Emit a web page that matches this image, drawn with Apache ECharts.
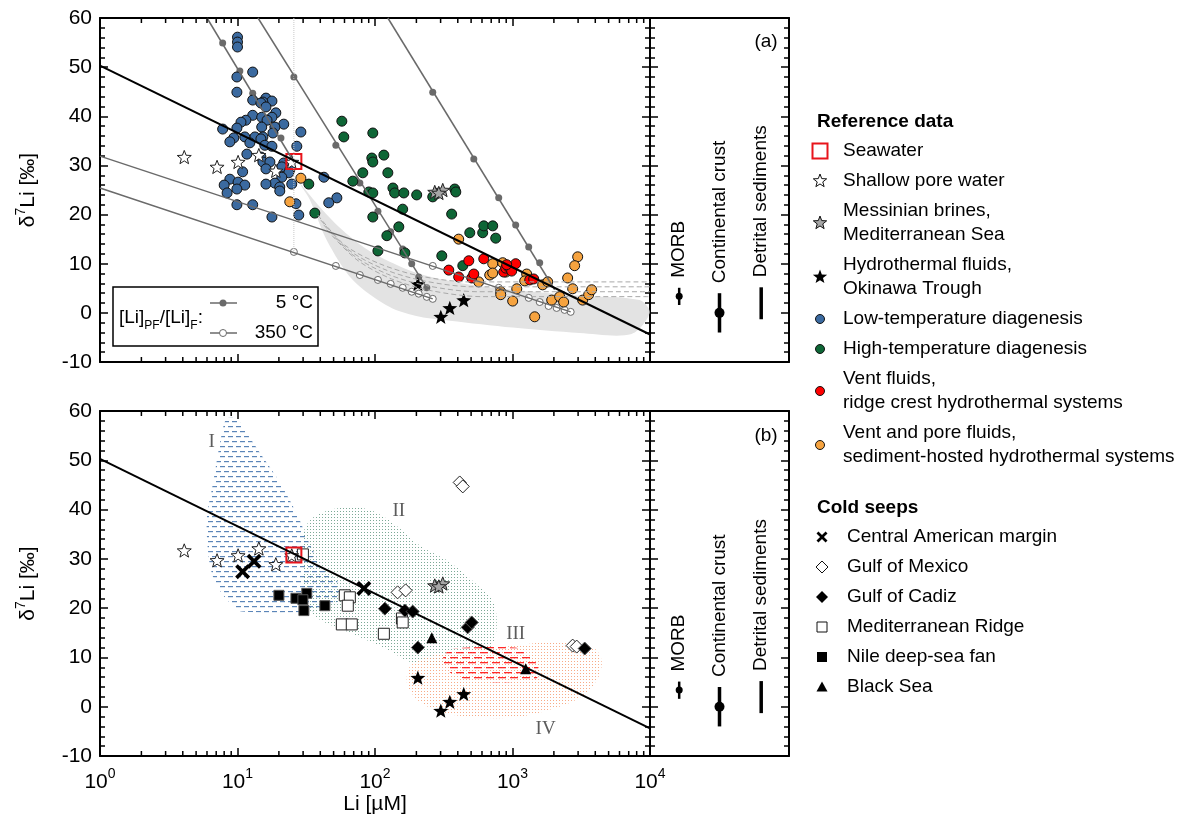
<!DOCTYPE html>
<html>
<head>
<meta charset="utf-8">
<title>δ7Li versus Li concentration</title>
<script src="https://cdn.jsdelivr.net/npm/echarts@6.0.0/dist/echarts.min.js"></script>
<style>
  html, body { margin: 0; padding: 0; background: #fff; }
  #chart { width: 1182px; height: 832px; }
</style>
</head>
<body>
<div id="chart"></div>
<script>
// ---------------- data: [Li (µM), δ7Li (‰)] ----------------
const seawater = [[25.7, 30.8]];
const shallowPoreWater = [[4.1, 31.7], [7.1, 29.7], [10.1, 30.7], [14.3, 32.1], [19.0, 28.9], [24.8, 30.7]];
const messinianBrines = [[272, 24.6], [311, 25.0], [291, 24.4]];
const okinawaFluids = [[205, 5.9], [301, -0.8], [350, 1.0], [442, 2.6]];

const lowTempDiagenesis = [
  [10.0, 56.1], [10.0, 55.1], [10.0, 54.1], [12.9, 49.0], [9.9, 48.0], [9.9, 44.9], [12.9, 43.3], [16.1, 43.7],
  [17.8, 43.1], [15.3, 42.9], [14.8, 42.7], [16.1, 41.9], [19.0, 40.7], [12.9, 40.2], [15.0, 39.8], [17.8, 39.8],
  [11.5, 39.2], [16.4, 39.2], [10.6, 38.8], [21.7, 38.4], [18.7, 37.8], [15.0, 37.8], [9.9, 37.6], [7.8, 37.4],
  [28.9, 36.8], [18.1, 36.6], [13.4, 35.8], [15.3, 35.8], [11.3, 35.8], [9.4, 35.6], [14.8, 35.4], [8.8, 34.8],
  [12.3, 34.6], [15.8, 34.1], [17.8, 33.9], [27.0, 33.9], [11.7, 32.3], [14.8, 31.7], [15.3, 30.7], [17.2, 30.7],
  [21.7, 30.5], [21.0, 29.7], [16.1, 29.3], [24.0, 29.1], [10.9, 28.7], [23.6, 28.5], [21.0, 27.6], [42.5, 27.6],
  [8.8, 27.2], [10.1, 26.6], [18.7, 26.4], [24.8, 26.2], [16.1, 26.2], [8.0, 26.0], [11.3, 26.0], [20.3, 25.6],
  [9.9, 25.2], [20.3, 24.8], [8.4, 24.4], [52.8, 23.4], [46.1, 22.4], [26.6, 22.2], [9.9, 22.0], [12.9, 22.0],
  [27.9, 19.9], [17.8, 19.5]
];
const highTempDiagenesis = [
  [57.4, 39.0], [59.3, 35.8], [96.4, 36.6], [94.8, 31.5], [96.4, 30.7], [116, 32.1], [81.5, 28.5], [124, 28.5],
  [69.0, 26.8], [90.2, 24.6], [96.4, 24.4], [135, 25.4], [139, 24.4], [162, 24.4], [201, 24.0], [263, 23.6],
  [380, 25.2], [387, 24.6], [159, 21.1], [33.0, 26.2], [36.5, 20.3], [96.4, 19.5], [149, 17.5], [122, 15.7],
  [361, 20.1], [489, 16.3], [607, 16.3], [618, 17.7], [718, 17.7], [755, 15.2], [105, 12.6], [165, 12.2],
  [306, 11.6], [435, 9.6]
];
const ridgeCrestVents = [
  [344, 8.7], [406, 7.3], [481, 10.6], [505, 7.1], [523, 7.9], [618, 11.0], [863, 8.3], [893, 9.1],
  [938, 9.3], [986, 8.5], [1055, 10.0], [907, 9.8], [1334, 6.7], [1426, 6.9]
];
const sedimentHostedVents = [
  [28.9, 27.4], [24.0, 22.6], [406, 15.0], [718, 10.0], [849, 10.2], [683, 7.7], [718, 8.1], [893, 8.3],
  [821, 4.3], [821, 3.7], [568, 6.3], [1074, 4.9], [1003, 2.4], [1268, 7.9], [1227, 6.5], [1657, 5.7],
  [1803, 6.3], [1928, 2.6], [2203, 3.3], [2355, 2.2], [1450, -0.8], [2518, 7.1], [2739, 4.9], [2979, 11.4],
  [2831, 9.6], [3237, 2.6], [3580, 3.7], [3765, 4.7]
];

// seawater – continental input mixing line
const mixingLine = [[1, 50.3], [10000, -4.4]];

// [Li]PF/[Li]F model curves at 5 °C (line ends, then ratio markers)
const curve5C_A = [[6.0, 60], [25.7, 30.7]];
const curve5C_A_marks = [[7.8, 54.9], [10.4, 49.2], [12.9, 44.7], [20.7, 35.6]];
const curve5C_B = [[14.1, 60], [238, 5.1]];
const curve5C_B_marks = [[25.7, 48.0], [51.9, 34.1], [77.6, 26.4], [105, 20.7], [130, 16.5], [159, 13.0], [185, 10.0], [208, 7.3], [238, 5.1]];
const curve5C_C = [[124, 60], [2027, 4.7]];
const curve5C_C_marks = [[263, 44.9], [523, 31.3], [794, 23.4], [1055, 17.9], [1312, 13.4], [1577, 10.2], [1804, 6.7]];
// ... and at 350 °C
const curve350C_A = [[1, 31.9], [2649, 0.2]];
const curve350C_A_marks = [[263, 9.55], [794, 5.1], [1312, 3.05], [1577, 2.2], [1830, 1.4], [2094, 1.0], [2393, 0.6], [2649, 0.2]];
const curve350C_B = [[1, 25.4], [263, 2.85]];
const curve350C_B_marks = [[25.7, 12.4], [51.9, 9.55], [77.6, 7.7], [105, 6.7], [130, 5.9], [159, 5.1], [185, 4.3], [208, 3.9], [238, 3.25], [263, 2.85]];

// seawater Li reference
const seawaterLiGuide = [[25.7, 60], [25.7, 12.4]];

// modelled fluid envelope (shaded) and its dashed bounds
const fluidEnvelope = [
  [28.4, 26.4], [38.4, 22.0], [55.5, 17.3], [84.3, 13.2], [128, 10.4], [212, 7.9], [413, 6.1], [1003, 4.7],
  [3076, 3.5], [8404, 2.6], [9940, 0], [7350, -4.3], [3076, -4.1], [1003, -3.0], [350, -1.6], [212, -0.8],
  [128, 1.2], [69.0, 6.7], [44.6, 14.8], [33.6, 23.0], [29.4, 25.6]
];
const envelopeDash1 = [[38.4, 19.9], [60.2, 13.8], [108, 10.0], [212, 7.5], [490, 6.3], [10000, 6.3]];
const envelopeDash2 = [[40.3, 18.9], [64.5, 12.8], [116, 8.9], [227, 6.5], [523, 5.3], [10000, 5.3]];
const envelopeDash3 = [[42.4, 17.9], [69.0, 11.8], [123, 7.9], [241, 5.5], [560, 4.3], [10000, 4.3]];
const envelopeDash4 = [[44.6, 16.9], [73.8, 10.8], [132, 6.9], [258, 4.5], [598, 3.3], [10000, 3.3]];

// cold seeps
const centralAmerica = [[10.9, 27.4], [13.2, 29.5], [83, 24.0]];
const gulfOfMexico = [[413, 45.5], [435, 44.7], [146, 23.2], [167, 23.6], [2739, 12.4], [2930, 12.2]];
const gulfOfCadiz = [[118, 19.9], [165, 19.5], [188, 19.3], [205, 12.0], [472, 16.1], [505, 17.1], [3350, 11.8]];
const mediterraneanRidge = [[29.9, 30.9], [60.3, 22.6], [65.6, 22.2], [63.4, 20.5], [57.4, 16.7], [67.8, 16.7], [116, 14.8], [157, 17.9], [159, 17.1]];
const nileFan = [[20.0, 22.6], [26.6, 22.0], [31.9, 23.0], [29.9, 21.7], [30.4, 19.5], [43.2, 20.5]];
const blackSea = [[259, 14.0], [1247, 7.7]];

// fluid-type fields I–IV
const fieldI = [[8.37, 58.5], [9.9, 58.5], [11.7, 55.5], [15.3, 50.6], [19.3, 46.5], [24.0, 41.9], [28.4, 37.8], [31.9, 34.3],
  [37.8, 30.3], [46.9, 27.0], [55.5, 24.6], [53.7, 21.5], [39.7, 19.5], [10.8, 19.3], [8.8, 21.1], [7.45, 23.6],
  [6.52, 27.0], [6.10, 31.7], [5.99, 38.4], [6.63, 45.3], [7.7, 55.5]];
const fieldII = [[29.9, 34.8], [33.6, 37.8], [43.2, 39.6], [60.3, 40.4], [84.3, 40.2], [112, 38.8], [151, 36.2], [212, 32.7],
  [350, 29.3], [559, 24.6], [718, 21.5], [768, 16.9], [718, 12.8], [559, 9.3], [333, 8.5], [179, 9.1], [128, 11.4],
  [65.6, 15.0], [38.4, 17.9], [31.9, 20.5], [29.9, 27.6]];
const fieldIII = [[380, 11.8], [1038, 12.0], [1334, 10.4], [1525, 8.3], [1500, 5.7], [1227, 5.1], [578, 5.1], [380, 6.3], [321, 8.3], [316, 10.4]];
const fieldIV = [[170, 5.9], [188, 8.7], [333, 11.0], [768, 12.0], [1334, 12.8], [2317, 13.0], [3828, 12.0], [4449, 9.3],
  [4090, 5.3], [3076, 1.8], [1774, -0.8], [1003, -2.2], [578, -2.2], [333, -1.4], [222, 0.6], [179, 3.3]];
const fieldLabels = [{ name: 'I', value: [6.5, 53.7] }, { name: 'II', value: [149, 39.8] }, { name: 'III', value: [1055, 14.8] }, { name: 'IV', value: [1742, -4.5] }];

// end-member ranges (side panels)
const endmemberNames = ['MORB', 'Continental crust', 'Detrital sediments'];
const endmemberMean = [3.4, 0, null];
const endmemberLow = [1.6, -4.0, -1.3];
const endmemberHigh = [5.1, 4.0, 5.2];

// axis ticks
const liDecadeExponent = ['0', '1', '2', '3', '4'];
const liMinorTicks = [2, 3, 4, 5, 6, 7, 8, 9, 20, 30, 40, 50, 60, 70, 80, 90, 200, 300, 400, 500, 600, 700, 800, 900,
  2000, 3000, 4000, 5000, 6000, 7000, 8000, 9000];

// ---------------- styling ----------------
const F = '"Liberation Sans", Arial, Helvetica, sans-serif';
const FS = '"Liberation Serif", "Times New Roman", serif';
const STAR = 'path://M0,-10L2.5,-3.45L9.51,-3.09L4.0,1.3L5.88,8.09L0,4.2L-5.88,8.09L-4.0,1.3L-9.51,-3.09L-2.5,-3.45Z';
const CROSS = 'path://M-10,-6.5L-6.5,-10L0,-3.5L6.5,-10L10,-6.5L3.5,0L10,6.5L6.5,10L0,3.5L-6.5,10L-10,6.5L-3.5,0Z';
const C = {
  blue: '#3b6aa0', green: '#0e6636', red: '#ff0000', orange: '#f6a33f', grey: '#a6a6a6',
  curve: '#6a6a6a', sea: '#e8141b'
};
const slotX = [0.21, 0.5, 0.8];         // horizontal slots of the side panels
const barWidths = [2.5, 3.5, 3.5];
const dotRadii = [3.5, 5, 0];

function makePattern(w, h, draw) {
  const c = document.createElement('canvas');
  c.width = w; c.height = h;
  draw(c.getContext('2d'));
  return { image: c, repeat: 'repeat' };
}
const fillI = makePattern(8, 10, g => { g.fillStyle = 'rgba(62,112,172,0.85)'; g.fillRect(0, 1, 5, 1.2); g.fillRect(4, 6, 4, 1.2); g.fillRect(0, 6, 1, 1.2); });
const fillII = makePattern(3, 3, g => { g.fillStyle = 'rgba(80,140,115,0.75)'; g.fillRect(1, 1, 1, 1); });
const fillIII = makePattern(12, 10, g => { g.fillStyle = '#ff2a2a'; g.fillRect(0, 2, 8, 1.3); g.fillRect(6, 7, 6, 1.3); g.fillRect(0, 7, 2, 1.3); });
const fillIV = makePattern(3, 3, g => { g.fillStyle = 'rgba(245,150,105,0.8)'; g.fillRect(1, 1, 1, 1); });

// ---------------- axes ----------------
const frame = { show: true, onZero: false, lineStyle: { color: '#000', width: 2 } };
function logX(grid, pos, labels) {
  const ax = {
    type: 'log', logBase: 10, min: 1, max: 10000, gridIndex: grid, position: pos,
    axisLine: frame, splitLine: { show: false },
    axisTick: { show: true, inside: true, length: 8, lineStyle: { color: '#000', width: 1.5 } },
    axisLabel: { show: false }
  };
  if (labels) {
    ax.axisLabel = {
      show: true, margin: 11,
      formatter: v => '{b|10}{s|' + liDecadeExponent[Math.round(Math.log10(v))] + '}',
      rich: {
        b: { fontSize: 21, fontFamily: F, color: '#000', lineHeight: 30 },
        s: { fontSize: 14, fontFamily: F, color: '#000', verticalAlign: 'top' }
      }
    };
    ax.name = 'Li [µM]';
    ax.nameLocation = 'middle';
    ax.nameGap = 35;
    ax.nameTextStyle = { fontSize: 21, fontFamily: F, color: '#000', verticalAlign: 'top' };
  }
  return ax;
}
function sideX(grid, pos) {
  return { type: 'value', min: 0, max: 1, gridIndex: grid, position: pos, axisLine: frame,
    axisTick: { show: false }, axisLabel: { show: false }, splitLine: { show: false } };
}
function deltaY(grid, pos, labels) {
  const ax = {
    type: 'value', min: -10, max: 60, interval: 10, gridIndex: grid, position: pos,
    axisLine: frame, splitLine: { show: false },
    axisTick: { show: true, inside: true, length: 8, lineStyle: { color: '#000', width: 1.5 } },
    minorTick: { show: true, splitNumber: 5, length: 5, lineStyle: { color: '#000', width: 1.5 } },
    axisLabel: { show: false }
  };
  if (labels) {
    ax.axisLabel = { show: true, margin: 8, fontSize: 21, fontFamily: F, color: '#000' };
    ax.name = '{a|δ}{s|7}{a|Li [‰]}';
    ax.nameLocation = 'middle';
    ax.nameRotate = 90;
    ax.nameGap = 58;
    ax.nameTextStyle = {
      rich: {
        a: { fontSize: 21, fontFamily: F, color: '#000', lineHeight: 28 },
        s: { fontSize: 14, fontFamily: F, color: '#000', verticalAlign: 'top' }
      }
    };
  }
  return ax;
}

// ---------------- series helpers ----------------
function axesOf(panel) { return panel === 'a' ? { xAxisIndex: 0, yAxisIndex: 0 } : { xAxisIndex: 4, yAxisIndex: 4 }; }
function pts(name, data, panel, symbol, size, fill, stroke, lw) {
  return Object.assign({
    type: 'scatter', name, data, symbol, symbolSize: size, symbolKeepAspect: true, silent: true,
    itemStyle: { color: fill, borderColor: stroke || '#111', borderWidth: lw == null ? 1 : lw, opacity: 1 }
  }, axesOf(panel));
}
function seg(data, panel, color, width, type, smooth) {
  return Object.assign({
    type: 'line', data, showSymbol: false, silent: true, smooth: smooth || false,
    lineStyle: { color, width, type: type || 'solid' }
  }, axesOf(panel));
}
function area(poly, panel, fill, smooth) {
  return Object.assign({
    type: 'custom', data: [[1, 0]], silent: true,
    renderItem: (params, api) => ({
      type: 'polygon',
      shape: { points: poly.map(p => api.coord(p)), smooth: smooth },
      style: { fill: fill, stroke: null }
    })
  }, axesOf(panel));
}
function minorTicks(panel) {
  return Object.assign({
    type: 'custom', data: liMinorTicks.map(v => [v, 0]), silent: true, z: 5,
    renderItem: (params, api) => {
      const cs = params.coordSys;
      const x = api.coord([api.value(0), 0])[0];
      const st = { stroke: '#000', lineWidth: 1.5 };
      return { type: 'group', children: [
        { type: 'line', shape: { x1: x, y1: cs.y + cs.height, x2: x, y2: cs.y + cs.height - 5 }, style: st },
        { type: 'line', shape: { x1: x, y1: cs.y, x2: x, y2: cs.y + 5 }, style: st }
      ] };
    }
  }, axesOf(panel));
}
function endmembers(xi, yi) {
  return {
    type: 'custom', xAxisIndex: xi, yAxisIndex: yi, silent: true,
    data: endmemberNames.map((n, i) => [slotX[i], endmemberHigh[i]]),
    renderItem: (params, api) => {
      const i = params.dataIndex;
      const x = api.coord([slotX[i], 0])[0];
      const yLo = api.coord([0, endmemberLow[i]])[1];
      const yHi = api.coord([0, endmemberHigh[i]])[1];
      const kids = [
        { type: 'line', shape: { x1: x, y1: yLo, x2: x, y2: yHi }, style: { stroke: '#000', lineWidth: barWidths[i] } },
        { type: 'text', x: x, y: yHi - 10, rotation: Math.PI / 2,
          style: { text: endmemberNames[i], fontSize: 19, fontFamily: F, fill: '#000', align: 'left', verticalAlign: 'middle' } }
      ];
      if (endmemberMean[i] != null) {
        kids.push({ type: 'circle', shape: { cx: x, cy: api.coord([0, endmemberMean[i]])[1], r: dotRadii[i] }, style: { fill: '#000' } });
      }
      return { type: 'group', children: kids };
    }
  };
}

const series = [
  // ---- panel (a) ----
  area(fluidEnvelope, 'a', '#e3e3e3', 0.3),
  seg(envelopeDash1, 'a', '#a9a9a9', 1, [5, 3], 0.3),
  seg(envelopeDash2, 'a', '#a9a9a9', 1, [5, 3], 0.3),
  seg(envelopeDash3, 'a', '#a9a9a9', 1, [5, 3], 0.3),
  seg(envelopeDash4, 'a', '#a9a9a9', 1, [5, 3], 0.3),
  seg(seawaterLiGuide, 'a', '#c8c8c8', 1, 'dotted'),
  seg(curve350C_A, 'a', C.curve, 1.5),
  seg(curve350C_B, 'a', C.curve, 1.5),
  pts('350 °C', curve350C_A_marks, 'a', 'circle', 7, '#fff', C.curve, 1),
  pts('350 °C', curve350C_B_marks, 'a', 'circle', 7, '#fff', C.curve, 1),
  seg(curve5C_A, 'a', C.curve, 1.5),
  seg(curve5C_B, 'a', C.curve, 1.5),
  seg(curve5C_C, 'a', C.curve, 1.5),
  pts('5 °C', curve5C_A_marks, 'a', 'circle', 7, C.curve, C.curve, 0),
  pts('5 °C', curve5C_B_marks, 'a', 'circle', 7, C.curve, C.curve, 0),
  pts('5 °C', curve5C_C_marks, 'a', 'circle', 7, C.curve, C.curve, 0),
  seg(mixingLine, 'a', '#000', 2),
  pts('Low-temperature diagenesis', lowTempDiagenesis, 'a', 'circle', 10, C.blue),
  pts('High-temperature diagenesis', highTempDiagenesis, 'a', 'circle', 10, C.green),
  pts('Vent and pore fluids, sediment-hosted hydrothermal systems', sedimentHostedVents, 'a', 'circle', 10, C.orange),
  pts('Vent fluids, ridge crest hydrothermal systems', ridgeCrestVents, 'a', 'circle', 10, C.red),
  pts('Messinian brines', messinianBrines, 'a', STAR, 14, C.grey, '#222', 1),
  pts('Shallow pore water', shallowPoreWater, 'a', STAR, 14, '#fff', '#222', 1),
  pts('Hydrothermal fluids, Okinawa Trough', okinawaFluids, 'a', STAR, 15, '#000', '#000', 0),
  pts('Seawater', seawater, 'a', 'rect', 15, 'rgba(0,0,0,0)', C.sea, 2),
  minorTicks('a'),
  endmembers(2, 2),

  // ---- panel (b) ----
  area(fieldII, 'b', fillII, 0.35),
  area(fieldIV, 'b', fillIV, 0.35),
  area(fieldI, 'b', fillI, 0.3),
  area(fieldIII, 'b', fillIII, 0.3),
  seg(mixingLine, 'b', '#000', 2),
  Object.assign({
    type: 'scatter', data: fieldLabels, symbolSize: 1, silent: true, itemStyle: { color: 'rgba(0,0,0,0)' },
    label: { show: true, position: 'inside', formatter: '{b}', fontFamily: FS, fontSize: 19, color: '#333' }
  }, axesOf('b')),
  pts('Mediterranean Ridge', mediterraneanRidge, 'b', 'rect', 11, '#fff', '#222', 1),
  pts('Nile deep-sea fan', nileFan, 'b', 'rect', 10, '#000', '#555', 1),
  pts('Gulf of Mexico', gulfOfMexico, 'b', 'diamond', 13, '#fff', '#222', 1),
  pts('Gulf of Cadiz', gulfOfCadiz, 'b', 'diamond', 13, '#000', '#555', 1),
  pts('Black Sea', blackSea, 'b', 'triangle', 11, '#000', '#000', 0),
  pts('Messinian brines', messinianBrines, 'b', STAR, 14, C.grey, '#222', 1),
  pts('Shallow pore water', shallowPoreWater, 'b', STAR, 14, '#fff', '#222', 1),
  pts('Hydrothermal fluids, Okinawa Trough', okinawaFluids, 'b', STAR, 15, '#000', '#000', 0),
  pts('Central American margin', centralAmerica, 'b', CROSS, 15, '#000', '#000', 0),
  pts('Seawater', seawater, 'b', 'rect', 15, 'rgba(0,0,0,0)', C.sea, 2),
  minorTicks('b'),
  endmembers(6, 6)
];

// ---------------- legends ----------------
function starPts(cx, cy, r) {
  const out = [];
  for (let k = 0; k < 10; k++) {
    const a = -Math.PI / 2 + k * Math.PI / 5;
    const rr = k % 2 ? r * 0.42 : r;
    out.push([cx + rr * Math.cos(a), cy + rr * Math.sin(a)]);
  }
  return out;
}
function legendSymbol(kind, cx, cy) {
  const ink = { stroke: '#111', lineWidth: 1 };
  switch (kind) {
    case 'seawater': return { type: 'rect', shape: { x: cx - 7.5, y: cy - 7.5, width: 15, height: 15 }, style: { fill: 'none', stroke: C.sea, lineWidth: 2 } };
    case 'whiteStar': return { type: 'polygon', shape: { points: starPts(cx, cy, 7) }, style: Object.assign({ fill: '#fff' }, ink) };
    case 'greyStar': return { type: 'polygon', shape: { points: starPts(cx, cy, 7) }, style: Object.assign({ fill: C.grey }, ink) };
    case 'blackStar': return { type: 'polygon', shape: { points: starPts(cx, cy, 7.5) }, style: { fill: '#000' } };
    case 'blue': case 'green': case 'red': case 'orange':
      return { type: 'circle', shape: { cx, cy, r: 4.5 }, style: Object.assign({ fill: C[kind] }, ink) };
    case 'cross': return { type: 'polygon', shape: { points: [[-10, -6.5], [-6.5, -10], [0, -3.5], [6.5, -10], [10, -6.5], [3.5, 0], [10, 6.5], [6.5, 10], [0, 3.5], [-6.5, 10], [-10, 6.5], [-3.5, 0]].map(p => [cx + p[0] * 0.55, cy + p[1] * 0.55]) }, style: { fill: '#000' } };
    case 'openDiamond': return { type: 'polygon', shape: { points: [[cx, cy - 6], [cx + 6, cy], [cx, cy + 6], [cx - 6, cy]] }, style: Object.assign({ fill: '#fff' }, ink) };
    case 'fullDiamond': return { type: 'polygon', shape: { points: [[cx, cy - 6], [cx + 6, cy], [cx, cy + 6], [cx - 6, cy]] }, style: { fill: '#000' } };
    case 'openSquare': return { type: 'rect', shape: { x: cx - 5, y: cy - 5, width: 10, height: 10 }, style: Object.assign({ fill: '#fff' }, ink) };
    case 'fullSquare': return { type: 'rect', shape: { x: cx - 5, y: cy - 5, width: 10, height: 10 }, style: { fill: '#000' } };
    case 'triangle': return { type: 'polygon', shape: { points: [[cx, cy - 5.5], [cx + 5.5, cy + 4.5], [cx - 5.5, cy + 4.5]] }, style: { fill: '#000' } };
  }
}
const legendGroups = [
  { title: 'Reference data', titleY: 122, firstY: 151, symX: 820, textX: 843, items: [
    { lines: ['Seawater'], sym: 'seawater' },
    { lines: ['Shallow pore water'], sym: 'whiteStar' },
    { lines: ['Messinian brines,', 'Mediterranean Sea'], sym: 'greyStar' },
    { lines: ['Hydrothermal fluids,', 'Okinawa Trough'], sym: 'blackStar' },
    { lines: ['Low-temperature diagenesis'], sym: 'blue' },
    { lines: ['High-temperature diagenesis'], sym: 'green' },
    { lines: ['Vent fluids,', 'ridge crest hydrothermal systems'], sym: 'red' },
    { lines: ['Vent and pore fluids,', 'sediment-hosted hydrothermal systems'], sym: 'orange' }
  ] },
  { title: 'Cold seeps', titleY: 508, firstY: 537, symX: 822, textX: 847, items: [
    { lines: ['Central American margin'], sym: 'cross' },
    { lines: ['Gulf of Mexico'], sym: 'openDiamond' },
    { lines: ['Gulf of Cadiz'], sym: 'fullDiamond' },
    { lines: ['Mediterranean Ridge'], sym: 'openSquare' },
    { lines: ['Nile deep-sea fan'], sym: 'fullSquare' },
    { lines: ['Black Sea'], sym: 'triangle' }
  ] }
];
const graphic = [];
const LINE = 24, STEP = 30;
legendGroups.forEach(gp => {
  graphic.push({ type: 'text', x: 817, y: gp.titleY, style: { text: gp.title, fontSize: 19, fontWeight: 'bold', fontFamily: F, fill: '#000', verticalAlign: 'middle' } });
  let y = gp.firstY;
  gp.items.forEach(it => {
    const midY = y + (it.lines.length - 1) * LINE / 2;
    graphic.push(legendSymbol(it.sym, gp.symX, midY));
    it.lines.forEach((ln, k) => {
      graphic.push({ type: 'text', x: gp.textX, y: y + k * LINE, style: { text: ln, fontSize: 19, fontFamily: F, fill: '#000', verticalAlign: 'middle' } });
    });
    y += STEP + (it.lines.length - 1) * LINE;
  });
});
// panel labels
graphic.push({ type: 'text', x: 766, y: 42, style: { text: '(a)', fontSize: 19, fontFamily: F, fill: '#000', align: 'center', verticalAlign: 'middle' } });
graphic.push({ type: 'text', x: 766, y: 436, style: { text: '(b)', fontSize: 19, fontFamily: F, fill: '#000', align: 'center', verticalAlign: 'middle' } });
// curve key inside panel (a)
graphic.push({ type: 'rect', z: 50, shape: { x: 113, y: 287, width: 205, height: 59 }, style: { fill: '#fff', stroke: '#000', lineWidth: 1.5 } });
graphic.push({ type: 'text', z: 51, x: 119, y: 318, style: {
  text: '{m|[Li]}{s|PF}{m|/[Li]}{s|F}{m|:}', verticalAlign: 'middle',
  rich: { m: { fontSize: 19, fontFamily: F, fill: '#000', lineHeight: 28 }, s: { fontSize: 12, fontFamily: F, fill: '#000', verticalAlign: 'bottom' } }
} });
[[303, C.curve, 0, '5 °C'], [333, '#fff', 1, '350 °C']].forEach(([yy, fc, sw, lab]) => {
  graphic.push({ type: 'line', z: 51, shape: { x1: 210, y1: yy, x2: 237, y2: yy }, style: { stroke: C.curve, lineWidth: 1.5 } });
  graphic.push({ type: 'circle', z: 52, shape: { cx: 223, cy: yy, r: 3.5 }, style: { fill: fc, stroke: C.curve, lineWidth: sw } });
  graphic.push({ type: 'text', z: 51, x: 313, y: yy, style: { text: lab, fontSize: 19, fontFamily: F, fill: '#000', align: 'right', verticalAlign: 'middle' } });
});

const option = {
  animation: false,
  backgroundColor: '#fff',
  textStyle: { fontFamily: F },
  grid: [
    { left: 100, top: 18, width: 550, height: 344 },
    { left: 650, top: 18, width: 139, height: 344 },
    { left: 100, top: 411, width: 550, height: 345 },
    { left: 650, top: 411, width: 139, height: 345 }
  ],
  xAxis: [
    logX(0, 'bottom', false), logX(0, 'top', false), sideX(1, 'bottom'), sideX(1, 'top'),
    logX(2, 'bottom', true), logX(2, 'top', false), sideX(3, 'bottom'), sideX(3, 'top')
  ],
  yAxis: [
    deltaY(0, 'left', true), deltaY(0, 'right', false), deltaY(1, 'left', false), deltaY(1, 'right', false),
    deltaY(2, 'left', true), deltaY(2, 'right', false), deltaY(3, 'left', false), deltaY(3, 'right', false)
  ],
  series,
  graphic
};

const chart = echarts.init(document.getElementById('chart'));
chart.setOption(option);
</script>
</body>
</html>
